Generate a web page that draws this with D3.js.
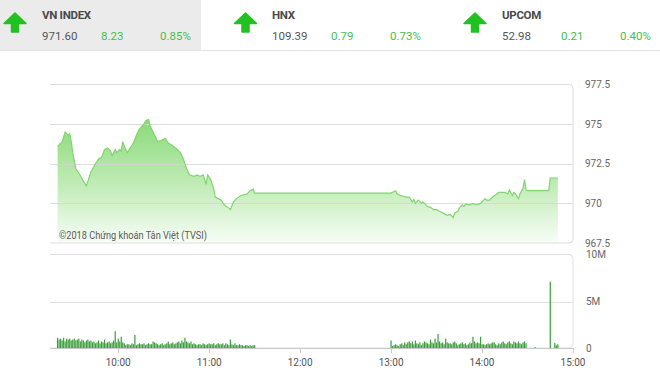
<!DOCTYPE html>
<html>
<head>
<meta charset="utf-8">
<script src="https://d3js.org/d3.v7.min.js"></script>
<style>
body{margin:0;background:#fff;font-family:Roboto,'Open Sans',sans-serif}
svg{display:block}
</style>
</head>
<body>
<div id="chart"></div>
<script>
// header quotes
const indexNames = ["VN INDEX", "HNX", "UPCOM"];
const indexValues = ["971.60", "109.39", "52.98"];
const indexChanges = ["8.23", "0.79", "0.21"];
const indexPercents = ["0.85%", "0.73%", "0.40%"];

// intraday price (time, value)
const priceTimes = ["9:20","9:23","9:25","9:26","9:27","9:28","9:29","9:30","9:32","9:34","9:36","9:37","9:39","9:40","9:42","9:45","9:47","9:49","9:51","9:53","9:55","9:56","9:58","9:59",
  "10:01","10:02","10:03","10:04","10:06","10:08","10:10","10:12","10:14","10:17","10:18","10:20","10:21","10:23","10:26","10:29","10:31","10:33","10:35","10:39","10:41","10:43","10:45","10:47","10:50","10:52","10:54","10:56","10:58","10:59",
  "11:01","11:03","11:04","11:06","11:08","11:10","11:13","11:14","11:16","11:18","11:21","11:25","11:27","11:29","11:30",
  "13:00","13:01","13:03","13:04","13:06","13:08","13:10","13:12","13:14","13:15","13:16","13:18","13:20","13:21","13:24","13:26","13:28","13:30","13:32","13:34","13:37","13:39","13:41","13:42","13:44","13:45","13:47","13:48","13:49","13:52","13:54","13:56","13:59",
  "14:01","14:02","14:03","14:05","14:07","14:10","14:11","14:13","14:15","14:17","14:18","14:20","14:21","14:22","14:24","14:25","14:27","14:28","14:29","14:30","14:44","14:45","14:50"];
const priceValues = [973.6,973.9,974.5,974.4,974.3,974.4,973.9,973.2,972.2,971.9,971.6,971.4,971.1,971.4,972.0,972.5,972.8,972.9,973.4,973.5,973.3,973.0,973.4,973.2,
  973.4,973.3,973.9,973.6,973.2,973.5,973.8,974.3,974.7,975.0,975.2,975.3,974.9,974.5,973.9,974.0,974.1,973.8,973.7,973.4,973.2,972.8,972.2,971.8,971.7,971.8,971.7,971.8,971.2,971.8,
  971.5,970.9,970.4,970.3,970.2,969.9,969.7,969.6,970.1,970.3,970.5,970.6,970.8,970.9,970.65,
  970.65,970.7,970.8,970.6,970.5,970.45,970.4,970.4,970.1,970.25,970.0,970.2,970.0,970.1,969.8,969.75,969.6,969.6,969.5,969.4,969.25,969.3,969.1,969.4,969.5,969.7,969.9,969.8,969.95,969.9,970.0,969.9,970.0,
  970.2,970.3,970.2,970.2,970.4,970.6,970.7,970.7,970.7,970.6,970.85,970.5,970.7,970.6,970.3,970.6,970.95,971.5,970.85,970.8,970.8,971.6,971.6];

// volume in millions, one bar per minute
const morningStart = "9:20";
const morningVolume = [1.1,0.9,1.0,0.8,1.1,0.7,1.0,0.9,1.0,0.8,
  0.9,1.0,0.8,0.9,1.0,0.7,0.9,0.8,0.6,0.8,
  0.9,0.7,0.8,0.6,0.7,0.5,0.6,0.8,0.5,0.7,
  0.6,0.9,0.5,0.6,0.7,0.5,0.6,0.8,1.8,0.6,
  1.0,0.7,1.2,0.6,0.5,0.3,0.4,0.4,0.3,0.5,
  0.4,1.4,0.3,0.4,0.5,0.4,0.4,0.5,0.3,0.4,
  0.5,0.4,0.4,0.7,0.6,0.5,0.4,0.3,0.4,0.5,
  0.3,0.4,0.5,0.7,0.4,0.5,0.6,0.4,0.5,0.6,
  0.7,0.5,0.8,0.6,1.1,0.7,0.6,0.5,0.7,0.4,
  0.5,0.4,0.3,0.4,0.4,0.3,0.5,0.4,0.3,0.4,
  0.5,0.4,0.4,0.5,0.3,0.4,0.5,0.4,0.4,0.5,
  0.3,0.5,0.4,0.3,0.9,0.4,0.3,0.5,0.3,0.3,
  0.4,0.3,0.3,0.2,0.3,0.3,0.2,0.3,0.2,0.3,0.3];
const afternoonStart = "13:00";
const afternoonVolume = [0.8,0.2,0.3,0.4,0.3,0.2,0.4,0.5,0.3,0.6,
  0.4,0.6,0.7,0.5,0.7,0.4,0.8,0.5,0.4,0.6,
  0.3,0.5,0.7,0.6,0.5,0.4,0.9,0.6,0.5,1.0,
  0.6,1.5,0.7,0.5,0.6,0.4,1.0,0.6,0.5,0.5,
  0.4,0.6,0.7,0.5,0.3,0.4,0.5,0.6,0.4,0.5,
  0.3,0.4,0.6,0.5,1.2,0.7,0.5,0.6,0.5,1.2,
  0.4,0.4,0.3,0.4,0.5,0.4,0.5,0.6,0.6,0.4,
  0.3,0.5,0.4,0.6,0.7,0.5,0.4,0.6,0.7,0.5,
  0.4,0.7,0.6,0.5,0.7,0.5,0.4,0.6,0.7,0.5];
const closeTimes = ["14:35","14:45","14:48","14:49","14:50"];
const closeVolume = [0.1,7.1,0.55,0.3,0.4];

const priceTicks = [967.5, 970, 972.5, 975, 977.5];
const volumeTicks = [0, 5, 10];
const volumeTickLabels = ["0", "5M", "10M"];
const timeTicks = ["10:00", "11:00", "12:00", "13:00", "14:00", "15:00"];

const W = 660, H = 374;
const toMin = s => { const p = s.split(":"); return +p[0] * 60 + +p[1]; };

const svg = d3.select("#chart").append("svg").attr("width", W).attr("height", H);

// ---- header ----
const hdrX = [0, 230, 460];
svg.append("rect").attr("x", 0).attr("y", 0).attr("width", 201).attr("height", 50).attr("fill", "#ebebeb");
svg.append("line").attr("x1", 0).attr("x2", W).attr("y1", 50.5).attr("y2", 50.5).attr("stroke", "#e2e2e2");

indexNames.forEach((n, i) => {
  const g = svg.append("g").attr("transform", `translate(${hdrX[i]},0)`);
  const ax = [15, 15.5, 15][i];
  g.append("path")
    .attr("d", `M${ax},13 L${ax + 11},23.5 L${ax + 3.5},23.5 L${ax + 3.5},32 L${ax - 3.5},32 L${ax - 3.5},23.5 L${ax - 11},23.5 Z`)
    .attr("fill", "#21c121").attr("stroke", "#21c121").attr("stroke-width", 1.5).attr("stroke-linejoin", "round");
  g.append("text").attr("x", 42).attr("y", 18.5).text(n)
    .attr("font-size", 11.5).attr("font-weight", 700).attr("fill", "#4a4a4a").attr("letter-spacing", -0.3);
  g.append("text").attr("x", 42).attr("y", 40).text(indexValues[i])
    .attr("font-size", 11.5).attr("fill", "#555");
  g.append("text").attr("x", 101).attr("y", 40).text(indexChanges[i])
    .attr("font-size", 11.5).attr("fill", "#4cbb4c");
  g.append("text").attr("x", 160).attr("y", 40).text(indexPercents[i])
    .attr("font-size", 11.5).attr("fill", "#4cbb4c");
});

// ---- scales ----
const x = d3.scaleLinear().domain([toMin("9:15"), toMin("15:00")]).range([50, 573]);
const yP = d3.scaleLinear().domain([967.5, 977.5]).range([243, 84.5]);
const yV = d3.scaleLinear().domain([0, 10]).range([348, 254.5]);

const frame = (top, bottom) => `M50,${top} H569 Q573,${top} 573,${top + 4} V${bottom - 4} Q573,${bottom} 569,${bottom} H50`;

// ---- price panel ----
const defs = svg.append("defs");
const grad = defs.append("linearGradient").attr("id", "pg").attr("gradientUnits", "userSpaceOnUse")
  .attr("x1", 0).attr("x2", 0).attr("y1", 118).attr("y2", 243);
grad.append("stop").attr("offset", 0).attr("stop-color", "#88da77");
grad.append("stop").attr("offset", 0.55).attr("stop-color", "#c2ecb9");
grad.append("stop").attr("offset", 1).attr("stop-color", "#f7fdf6");

const price = priceTimes.map((t, i) => ({ t: toMin(t), v: priceValues[i] }));

svg.append("path").datum(price)
  .attr("d", d3.area().x(d => x(d.t)).y0(yP(967.5) - 1).y1(d => yP(d.v)))
  .attr("fill", "url(#pg)");

svg.append("g").selectAll("line").data(priceTicks.slice(1, 4)).join("line")
  .attr("x1", 50).attr("x2", 573).attr("y1", d => Math.round(yP(d)) + 0.5).attr("y2", d => Math.round(yP(d)) + 0.5)
  .attr("stroke", "#d6d6d6").attr("stroke-opacity", 0.8);

svg.append("path").attr("d", frame(84.5, 243)).attr("fill", "none").attr("stroke", "#dcdcdc");

svg.append("path").datum(price)
  .attr("d", d3.line().x(d => x(d.t)).y(d => yP(d.v)))
  .attr("fill", "none").attr("stroke", "#7fd56e").attr("stroke-width", 1.2);

svg.append("g").selectAll("text").data(priceTicks).join("text")
  .attr("x", 585).attr("y", d => yP(d) + 3.5).text(d => d)
  .attr("font-size", 10).attr("fill", "#666");

svg.append("text").attr("x", 59).attr("y", 239).text("©2018 Chứng khoán Tân Việt (TVSI)")
  .attr("font-size", 11).attr("fill", "#5a5a5a")
  .attr("textLength", 148).attr("lengthAdjust", "spacingAndGlyphs");

// ---- volume panel ----
svg.append("line").attr("x1", 50).attr("x2", 573).attr("y1", 302.5).attr("y2", 302.5).attr("stroke", "#e0e0e0");
svg.append("path").attr("d", frame(254.5, 348)).attr("fill", "none").attr("stroke", "#e0e0e0");
svg.append("line").attr("x1", 50).attr("x2", 573).attr("y1", 348.5).attr("y2", 348.5).attr("stroke", "#c9c9c9");

const vol = [];
morningVolume.forEach((v, i) => vol.push({ t: toMin(morningStart) + i, v }));
afternoonVolume.forEach((v, i) => vol.push({ t: toMin(afternoonStart) + i, v }));
closeTimes.forEach((t, i) => vol.push({ t: toMin(t), v: closeVolume[i] }));

svg.append("g").selectAll("rect").data(vol).join("rect")
  .attr("x", d => x(d.t) - 0.6).attr("width", 1.2)
  .attr("y", d => yV(d.v)).attr("height", d => yV(0) - yV(d.v))
  .attr("fill", "#3a9e3a");

svg.append("g").selectAll("text").data(volumeTicks).join("text")
  .attr("x", 586).attr("y", d => yV(d) + 3.5).text((d, i) => volumeTickLabels[i])
  .attr("font-size", 10).attr("fill", "#666");

const xt = svg.append("g");
xt.selectAll("line").data(timeTicks).join("line")
  .attr("x1", d => Math.round(x(toMin(d))) + 0.5).attr("x2", d => Math.round(x(toMin(d))) + 0.5)
  .attr("y1", 348).attr("y2", 353).attr("stroke", "#c9c9c9");
xt.selectAll("text").data(timeTicks).join("text")
  .attr("x", d => x(toMin(d))).attr("y", 365.5).attr("text-anchor", "middle").text(d => d)
  .attr("font-size", 10).attr("fill", "#555");
</script>
</body>
</html>
